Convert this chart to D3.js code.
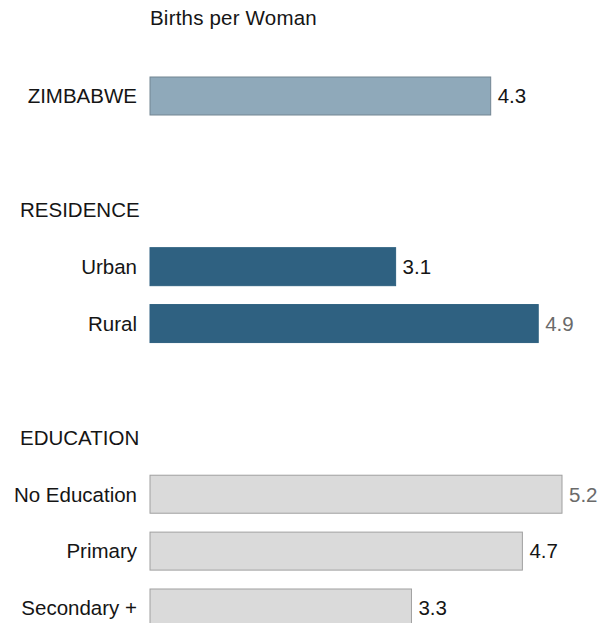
<!DOCTYPE html>
<html>
<head>
<meta charset="utf-8">
<script src="https://cdn.jsdelivr.net/npm/d3@7/dist/d3.min.js"></script>
<style>
  html, body { margin: 0; padding: 0; background: #fff; }
  svg { display: block; font-family: "Liberation Sans", Arial, Helvetica, sans-serif; }
</style>
</head>
<body>
<svg id="chart" width="600" height="623"></svg>
<script>
// Total fertility rate, births per woman
const groups = ["TOTAL", "RESIDENCE", "EDUCATION"];
const headers = ["", "RESIDENCE", "EDUCATION"];
const categories = ["ZIMBABWE", "Urban", "Rural", "No Education", "Primary", "Secondary +"];
const categoryGroup = ["TOTAL", "RESIDENCE", "RESIDENCE", "EDUCATION", "EDUCATION", "EDUCATION"];
const values = [4.3, 3.1, 4.9, 5.2, 4.7, 3.3];
const valueLabels = ["4.3", "3.1", "4.9", "5.2", "4.7", "3.3"];
const axisTitle = "Births per Woman";

// Styling
const groupFill = { TOTAL: "#8fa9ba", RESIDENCE: "#2f6181", EDUCATION: "#dadada" };
const groupStroke = { TOTAL: "#738592", RESIDENCE: "#2f6181", EDUCATION: "#a0a0a0" };
const mutedValue = new Set(["Rural", "No Education"]);
const fontSize = 20.5;

const svg = d3.select("#chart");

// Row layout: each group is preceded (except the first) by a blank row and a header row
const rows = [];
groups.forEach((g, gi) => {
  if (gi > 0) { rows.push("blank-" + g); rows.push("header-" + g); }
  categories.forEach((c, i) => { if (categoryGroup[i] === g) rows.push("bar-" + c); });
});

const y = d3.scalePoint().domain(rows).range([96, 608]);
const barH = 38;

const x = d3.scaleLinear().domain([0, 5.2]).range([150, 562]);

// Axis title
svg.append("text")
  .attr("x", x(0))
  .attr("y", 25)
  .attr("font-size", fontSize)
  .attr("letter-spacing", "0.2")
  .attr("fill", "#151515")
  .text(axisTitle);

// Group headers
groups.forEach((g, gi) => {
  if (!headers[gi]) return;
  svg.append("text")
    .attr("x", 20)
    .attr("y", y("header-" + g))
    .attr("dy", "0.36em")
    .attr("font-size", fontSize)
    .attr("fill", "#151515")
    .text(headers[gi]);
});

const data = categories.map((c, i) => ({ c, g: categoryGroup[i], v: values[i], label: valueLabels[i] }));

// Bars
svg.append("g").selectAll("rect").data(data).join("rect")
  .attr("x", x(0))
  .attr("y", d => y("bar-" + d.c) - barH / 2)
  .attr("width", d => x(d.v) - x(0))
  .attr("height", barH)
  .attr("fill", d => groupFill[d.g])
  .attr("stroke", d => groupStroke[d.g])
  .attr("stroke-width", 1);

// Category labels
svg.append("g").selectAll("text").data(data).join("text")
  .attr("x", 137)
  .attr("y", d => y("bar-" + d.c))
  .attr("dy", "0.36em")
  .attr("text-anchor", "end")
  .attr("font-size", fontSize)
  .attr("fill", "#151515")
  .text(d => d.c);

// Value labels
svg.append("g").selectAll("text").data(data).join("text")
  .attr("x", d => x(d.v) + 7)
  .attr("y", d => y("bar-" + d.c))
  .attr("dy", "0.36em")
  .attr("font-size", fontSize)
  .attr("fill", d => mutedValue.has(d.c) ? "#6a6a6a" : "#151515")
  .text(d => d.label);
</script>
</body>
</html>
